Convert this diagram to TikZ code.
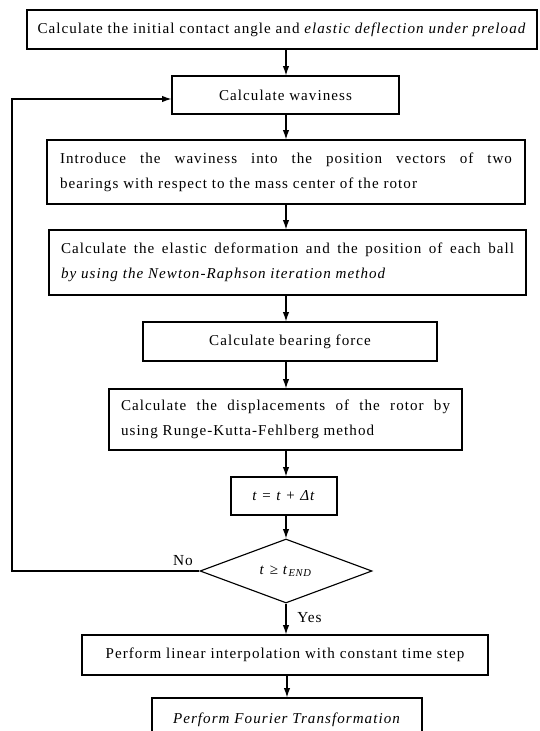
\documentclass[tikz,border=0pt]{standalone}
\usepackage{fontspec}
\setmainfont[LetterSpace=7]{Liberation Serif}
\usetikzlibrary{arrows.meta,shapes.geometric}
\newcommand\boxfont{\fontsize{11.3pt}{19pt}\selectfont}
\newcommand\lblfont{\fontsize{11.5pt}{13pt}\selectfont}
\begin{document}
\begin{tikzpicture}[x=0.75pt,y=-0.75pt,
  box/.style={draw, line width=0.85pt, inner sep=0pt, align=center, font=\boxfont},
  jbox/.style={inner sep=0pt, align=justify, font=\boxfont},
  dec/.style={draw, line width=0.85pt, diamond, inner sep=0pt, font=\boxfont},
  arr/.style={line width=0.85pt, -{Latex[length=7pt,width=4.8pt]}},
  lbl/.style={font=\lblfont, inner sep=0pt}]
\useasboundingbox (0,0) rectangle (539,731);
\coordinate (ax) at (286,0);
\coordinate (fb) at (12,0);
\node[box, minimum width=510*0.75pt, minimum height=39*0.75pt] (b1) at (282,29.5)
  {Calculate the initial contact angle and \textit{elastic deflection under preload}};
\node[box, minimum width=227*0.75pt, minimum height=38*0.75pt] (b2) at (285.5,95)
  {Calculate waviness};
\node[box, minimum width=478*0.75pt, minimum height=64*0.75pt] (b3) at (286,172) {};
\node[jbox, text width=452*0.75pt] (t3) at (286,172)
  {Introduce the waviness into the position vectors of two\linebreak bearings with respect to the mass center of the rotor};
\node[box, minimum width=477*0.75pt, minimum height=65*0.75pt] (b4) at (287.5,262.5) {};
\node[jbox, text width=453*0.75pt] (t4) at (287.5,262.5)
  {Calculate the elastic deformation and the position of each ball\linebreak \textit{by using the Newton-Raphson iteration method}};
\node[box, minimum width=294*0.75pt, minimum height=39*0.75pt] (b5) at (290,341.5)
  {Calculate bearing force};
\node[box, minimum width=353*0.75pt, minimum height=61*0.75pt] (b6) at (285.5,419.5) {};
\node[jbox, text width=329*0.75pt] (t6) at (285.5,419.5)
  {Calculate the displacements of the rotor by\linebreak using Runge-Kutta-Fehlberg method};
\node[box, minimum width=106*0.75pt, minimum height=38*0.75pt] (b7) at (284,496)
  {\textit{t = t + Δt}};
\node[dec, minimum width=172*0.75pt, minimum height=64*0.75pt] (d) at (286,571)
  {\textit{t} ≥ \textit{t}\textsubscript{\textit{END}}};
\node[box, minimum width=406*0.75pt, minimum height=40*0.75pt] (b8) at (285,655)
  {Perform linear interpolation with constant time step};
\node[box, minimum width=270*0.75pt, minimum height=40*0.75pt, text depth=0pt] (b9) at (287,718)
  {\textit{Perform Fourier Transformation}};
\node[lbl] (no) at (183,561) {No};
\node[lbl, anchor=west] (yes) at (297,618) {Yes};
\draw[arr] (b1.south -| ax) -- (b2.north -| ax);
\draw[arr] (b2.south -| ax) -- (b3.north -| ax);
\draw[arr] (b3.south -| ax) -- (b4.north -| ax);
\draw[arr] (b4.south -| ax) -- (b5.north -| ax);
\draw[arr] (b5.south -| ax) -- (b6.north -| ax);
\draw[arr] (b6.south -| ax) -- (b7.north -| ax);
\draw[arr] (b7.south -| ax) -- (d.north);
\draw[arr] (d.south) -- (b8.north -| d.south);
\draw[arr] (b8.south -| b9.north) -- (b9.north);
\draw[arr] (d.west) -- (d.west -| fb) |- ([yshift=-3pt]b2.west);
\end{tikzpicture}
\end{document}
